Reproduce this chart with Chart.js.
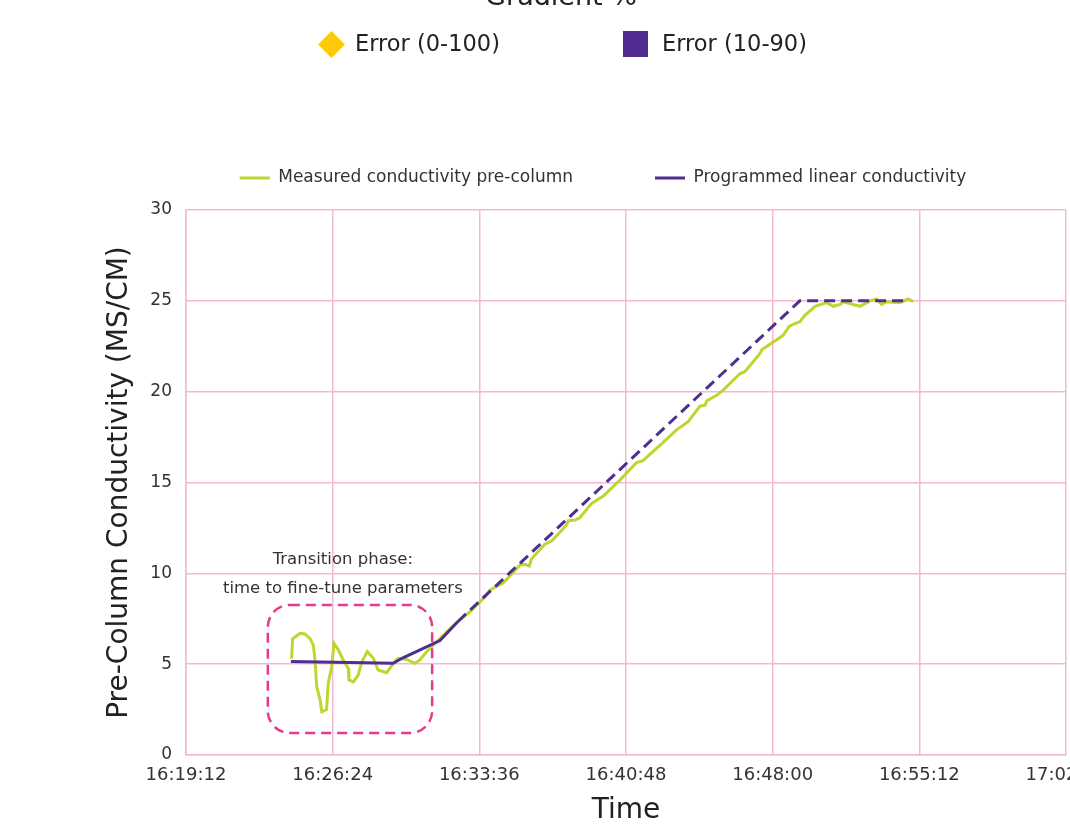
<!DOCTYPE html>
<html><head><meta charset="utf-8">
<script src="https://cdn.jsdelivr.net/npm/chart.js@4.4.1/dist/chart.umd.min.js"></script>
<style>
html,body{margin:0;padding:0;background:#fff;overflow:hidden;width:1070px;height:839px;}
#wrap{position:absolute;left:0;top:0;width:1120px;height:839px;}
.t{position:absolute;font-family:"DejaVu Sans",Verdana,sans-serif;color:#222;white-space:nowrap;}
.mk{position:absolute;}
</style></head><body>
<div id="wrap"><canvas id="c"></canvas></div>
<div id="topTitle" class="t" style="left:361px;width:400px;text-align:center;top:-20px;font-size:27px;line-height:32px;"></div>
<div class="mk" style="left:321.5px;top:34.5px;width:19px;height:19px;background:#ffc90b;transform:rotate(45deg);"></div>
<div id="gl0" class="t" style="left:355px;top:30px;font-size:22.5px;line-height:26px;"></div>
<div class="mk" style="left:623px;top:31px;width:25px;height:26px;background:#512d91;"></div>
<div id="gl1" class="t" style="left:662px;top:30px;font-size:22.5px;line-height:26px;"></div>
<script>
// ---- data ----
const gradientTitle = 'Gradient %';
const gradientLegend = ['Error (0-100)', 'Error (10-90)'];
const seriesNames = ['Measured conductivity pre-column', 'Programmed linear conductivity'];
const timeTicks = ['16:19:12','16:26:24','16:33:36','16:40:48','16:48:00','16:55:12','17:02:24'];
const yTicks = [0, 5, 10, 15, 20, 25, 30];
const xTitle = 'Time';
const yTitle = 'Pre-Column Conductivity (MS/CM)';

const measuredTimes = [
 '16:24:23','16:24:26','16:24:48','16:25:02','16:25:17','16:25:27','16:25:32','16:25:37','16:25:47','16:25:52',
 '16:26:06','16:26:11','16:26:21','16:26:28','16:26:41','16:26:55','16:27:10','16:27:12','16:27:25','16:27:39',
 '16:27:50','16:28:06','16:28:24','16:28:38','16:29:03','16:29:23','16:29:37','16:30:02','16:30:26','16:30:41',
 '16:31:01','16:31:20','16:31:45','16:32:24','16:33:08','16:33:53','16:34:07','16:34:47','16:35:36','16:35:50',
 '16:36:03','16:36:10','16:36:49','16:37:09','16:37:53','16:37:58','16:38:18','16:38:32','16:39:07','16:39:41',
 '16:40:30','16:41:19','16:41:38','16:42:07','16:42:28','16:43:17','16:43:51','16:44:26','16:44:41','16:44:46',
 '16:45:15','16:45:35','16:46:24','16:46:38','16:47:23','16:47:28','16:48:31','16:48:49','16:49:06','16:49:20',
 '16:49:35','16:50:05','16:50:39','16:50:59','16:51:18','16:51:28','16:51:57','16:52:17','16:52:47','16:53:06',
 '16:53:21','16:53:36','16:54:15','16:54:39','16:54:54'
];
const measuredValues = [
 5.3, 6.4, 6.7, 6.66, 6.42, 6.05, 5.23, 3.76, 3.03, 2.38,
 2.5, 3.95, 4.86, 6.15, 5.78, 5.23, 4.77, 4.13, 4.03, 4.4,
 5.13, 5.69, 5.32, 4.68, 4.53, 5.05, 5.32, 5.26, 5.05, 5.23,
 5.69, 6.05, 6.51, 7.2, 7.88, 8.71, 9.08, 9.48, 10.46, 10.5,
 10.4, 10.8, 11.6, 11.78, 12.66, 12.9, 12.93, 13.06, 13.85, 14.25,
 15.13, 16.1, 16.2, 16.7, 17.05, 17.9, 18.35, 19.2, 19.26, 19.5,
 19.8, 20.1, 21.0, 21.1, 22.1, 22.3, 23.1, 23.6, 23.75, 23.85,
 24.2, 24.7, 24.9, 24.7, 24.8, 24.95, 24.8, 24.7, 25.0, 25.1,
 24.8, 24.95, 24.9, 25.1, 24.95
];
const programmedTimes = ['16:24:21','16:29:22','16:29:51','16:30:32','16:31:40','16:32:33','16:49:20','16:54:30'];
const programmedValues = [5.15, 5.05, 5.35, 5.7, 6.3, 7.35, 25, 25];

// ---- styles / layout ----
const GREEN = '#bfd62f', PURPLE = '#4f2d91', GRID = '#f5b8d3', PINK = '#e8398b';
const FONT = '"DejaVu Sans", Verdana, sans-serif';
const dashFrom = '16:32:33';
const legendShift = {dx: 70, dy: -13.5};
const note = {from: '16:23:13', to: '16:31:17', top: 8.26, bottom: 1.21, radius: 22,
  textAt: '16:26:54', lineY: [10.75, 9.15], lines: ['Transition phase:', 'time to fine-tune parameters']};

const toSec = s => { const [h, m, x] = s.split(':').map(Number); return h * 3600 + m * 60 + x; };
const pad2 = n => String(n).padStart(2, '0');
const fmt = v => pad2(Math.floor(v / 3600)) + ':' + pad2(Math.floor(v % 3600 / 60)) + ':' + pad2(Math.round(v % 60));

document.getElementById('topTitle').textContent = gradientTitle;
document.getElementById('gl0').textContent = gradientLegend[0];
document.getElementById('gl1').textContent = gradientLegend[1];

Chart.defaults.font.family = FONT;

const noteplugin = {
  id: 'note',
  afterLayout(chart) {
    const lg = chart.legend;
    if (lg) { lg.left += legendShift.dx; lg.right += legendShift.dx; lg.top += legendShift.dy; lg.bottom += legendShift.dy; }
  },
  afterDatasetsDraw(chart) {
    const {ctx, scales: {x, y}} = chart;
    const x0 = x.getPixelForValue(toSec(note.from)), x1 = x.getPixelForValue(toSec(note.to));
    const y0 = y.getPixelForValue(note.top), y1 = y.getPixelForValue(note.bottom);
    ctx.save();
    ctx.strokeStyle = PINK; ctx.lineWidth = 2.5; ctx.setLineDash([10, 6]);
    ctx.beginPath(); ctx.roundRect(x0, y0, x1 - x0, y1 - y0, note.radius); ctx.stroke();
    ctx.setLineDash([]);
    ctx.fillStyle = '#333'; ctx.font = '16.5px ' + FONT; ctx.textAlign = 'center'; ctx.textBaseline = 'middle';
    const tx = x.getPixelForValue(toSec(note.textAt));
    note.lines.forEach((l, i) => ctx.fillText(l, tx, y.getPixelForValue(note.lineY[i])));
    ctx.restore();
  }
};

new Chart(document.getElementById('c'), {
  type: 'line',
  data: {
    datasets: [
      { label: seriesNames[0], data: measuredTimes.map((t, i) => ({x: toSec(t), y: measuredValues[i]})),
        borderColor: GREEN, backgroundColor: GREEN, borderWidth: 3, pointRadius: 0, tension: 0, order: 1 },
      { label: seriesNames[1], data: programmedTimes.map((t, i) => ({x: toSec(t), y: programmedValues[i]})),
        borderColor: PURPLE, backgroundColor: PURPLE, borderWidth: 3, pointRadius: 0, tension: 0, order: 0,
        segment: { borderDash: c => c.p0.parsed.x >= toSec(dashFrom) ? [11, 6] : undefined } }
    ]
  },
  options: {
    responsive: true, maintainAspectRatio: false, animation: false,
    layout: { padding: {top: 101, right: 54, left: 0, bottom: 0} },
    plugins: {
      tooltip: {enabled: false},
      legend: { position: 'top',
        labels: { usePointStyle: true, pointStyle: 'line', pointStyleWidth: 30, padding: 82,
          font: {size: 17}, color: '#333', sort: (a, b) => a.datasetIndex - b.datasetIndex } }
    },
    scales: {
      x: { type: 'linear', min: toSec(timeTicks[0]), max: toSec(timeTicks[timeTicks.length - 1]),
        afterBuildTicks: s => { s.ticks = timeTicks.map(t => ({value: toSec(t)})); },
        afterFit: s => { s.height = 84; },
        ticks: { callback: v => fmt(v), autoSkip: false, maxRotation: 0, padding: 10, color: '#333', font: {size: 18} },
        grid: { color: GRID, lineWidth: 1.5, drawTicks: false },
        border: { color: GRID, width: 1.5 },
        title: { display: true, text: xTitle, color: '#222', font: {size: 28}, padding: {top: 0, bottom: 11} } },
      y: { min: 0, max: 30,
        afterBuildTicks: s => { s.ticks = yTicks.map(v => ({value: v})); },
        afterFit: s => { s.width = 186; },
        ticks: { padding: 14, color: '#333', font: {size: 17} },
        grid: { color: GRID, lineWidth: 1.5, drawTicks: false },
        border: { color: GRID, width: 1.5 },
        title: { display: true, text: yTitle, color: '#222', font: {size: 28}, padding: {top: 103, bottom: 0} } }
    }
  },
  plugins: [noteplugin]
});
</script>
</body></html>
